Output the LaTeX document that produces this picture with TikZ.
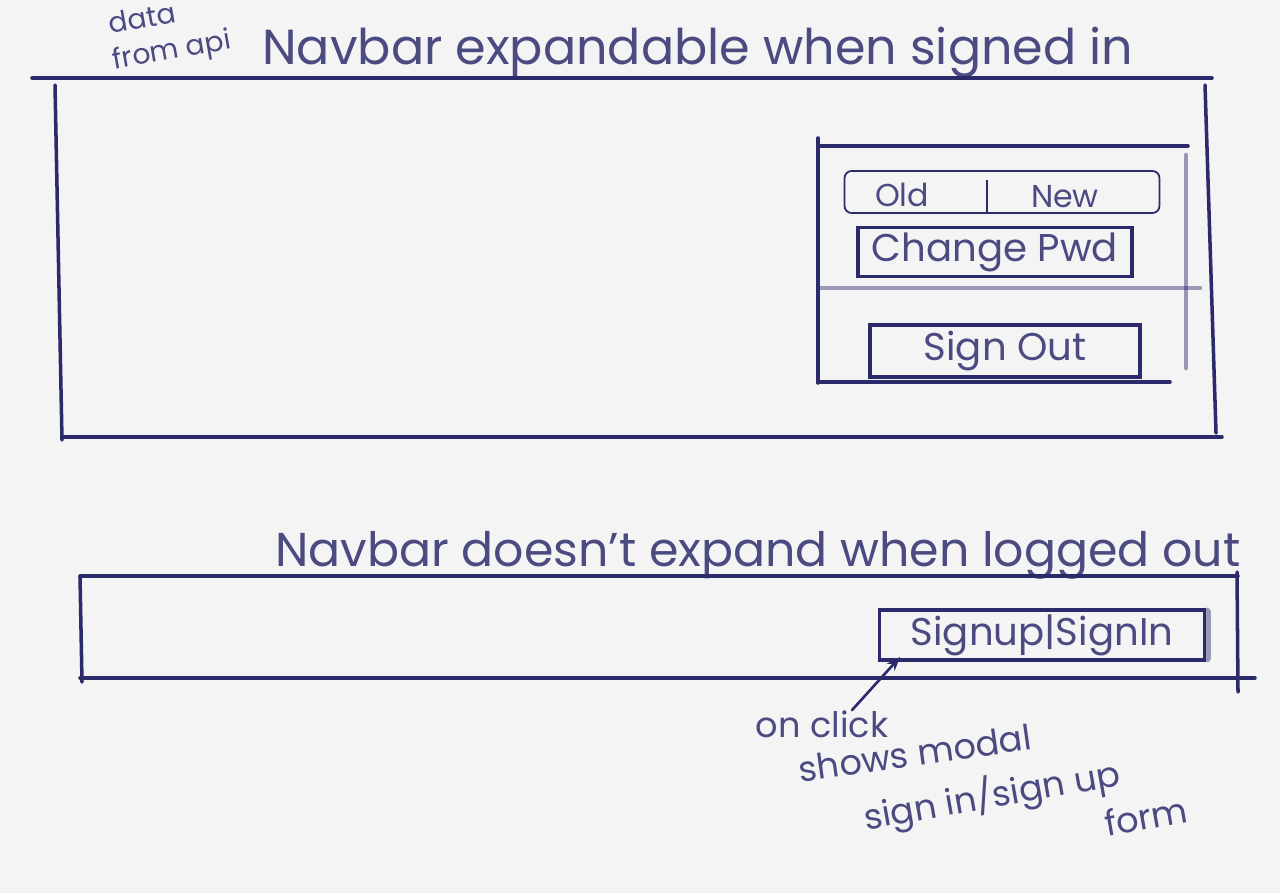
\documentclass[tikz,border=0pt]{standalone}
\usepackage{fontspec}
\setmainfont{Poppins}
\usetikzlibrary{positioning,arrows.meta}
\definecolor{ink}{HTML}{2B2A6B}
\definecolor{paper}{HTML}{F4F4F4}
\tikzset{%
  pen/.style={draw=ink, line width=2pt, line cap=round},
  faint/.style={draw=ink, line width=2.6pt, line cap=round, opacity=0.45},
  btn/.style={rectangle, draw=ink, line width=2.2pt, inner sep=0pt,
    text=ink!85, font=\fontsize{22}{22}\selectfont},
  title/.style={anchor=base west, inner sep=0pt, text=ink!85,
    font=\fontsize{28}{28}\selectfont},
  note/.style={inner sep=0pt, text=ink!85, font=\fontsize{20}{22}\selectfont},
}
\begin{document}
\begin{tikzpicture}[x=0.02cm,y=-0.02cm]
  \useasboundingbox[fill=paper] (0,0) rectangle (1280,893);
  % note in the corner
  \node[note, rotate=10, font=\fontsize{16}{17}\selectfont] (datanote) at (142,18) {data};
  \node[note, rotate=10, font=\fontsize{16}{17}\selectfont] (apinote) at (172,52) {from api};

  % navbar when signed in
  \node[title] (toptitle) at (262,64) {Navbar expandable when signed in};
  \draw[pen] (32,78) -- (1212,78);
  \draw[pen] (55,85) -- (62,440);
  \draw[pen] (62,437) -- (1222,437);
  \draw[pen] (1205,85) -- (1216,433);

  % dropdown panel
  \draw[pen] (818,146) -- (1188,146);
  \draw[pen] (818,138) -- (818,383);
  \draw[pen] (818,382) -- (1170,382);
  \draw[faint] (1186,155) -- (1186,368);
  \draw[faint] (818,288) -- (1200,288);
  \node[btn, rounded corners=4pt, line width=1pt, minimum width=6.3cm,
    minimum height=0.84cm] (pwdfield) at (1002,192) {};
  \draw[draw=ink, line width=1pt] (987,180) -- (987,213);
  \node[note, font=\fontsize{18}{19}\selectfont] (oldpwd) at (902,195) {Old};
  \node[note, font=\fontsize{18}{19}\selectfont] (newpwd) at (1065,197) {New};
  \node[btn, minimum width=5.48cm, minimum height=0.98cm] (pwdbtn) at (995,252) {Change Pwd};
  \node[btn, minimum width=5.4cm, minimum height=1.04cm] (outbtn) at (1005,351) {Sign Out};

  % navbar when logged out
  \node[title, font=\fontsize{27}{27}\selectfont] (bottitle) at (275,566) {Navbar doesn't expand when logged out};
  \draw[pen] (80,576) -- (1238,576);
  \draw[pen] (80,576) -- (82,682);
  \draw[pen] (80,678) -- (1255,678);
  \draw[pen] (1237,572) -- (1238,692);
  \node[btn, minimum width=6.5cm, minimum height=1cm] (signbtn) at (1042,635) {Signup|SignIn};
  \draw[faint, line width=5pt] (1207,612) -- (1207,658);

  % what the button does
  \node[note] (clicknote) at (822,724) {on click};
  \node[note, rotate=8] (modalnote) at (915,753) {shows modal};
  \node[note, rotate=10] (formnote) at (992,796) {sign in/sign up};
  \node[note, rotate=10] (formword) at (1146,816) {form};
  \draw[pen, line width=1.5pt, -{Stealth[length=8pt]}] ([xshift=0.6cm]clicknote.north)
    -- ([xshift=0.45cm,yshift=0.1cm]signbtn.south west);
\end{tikzpicture}
\end{document}
